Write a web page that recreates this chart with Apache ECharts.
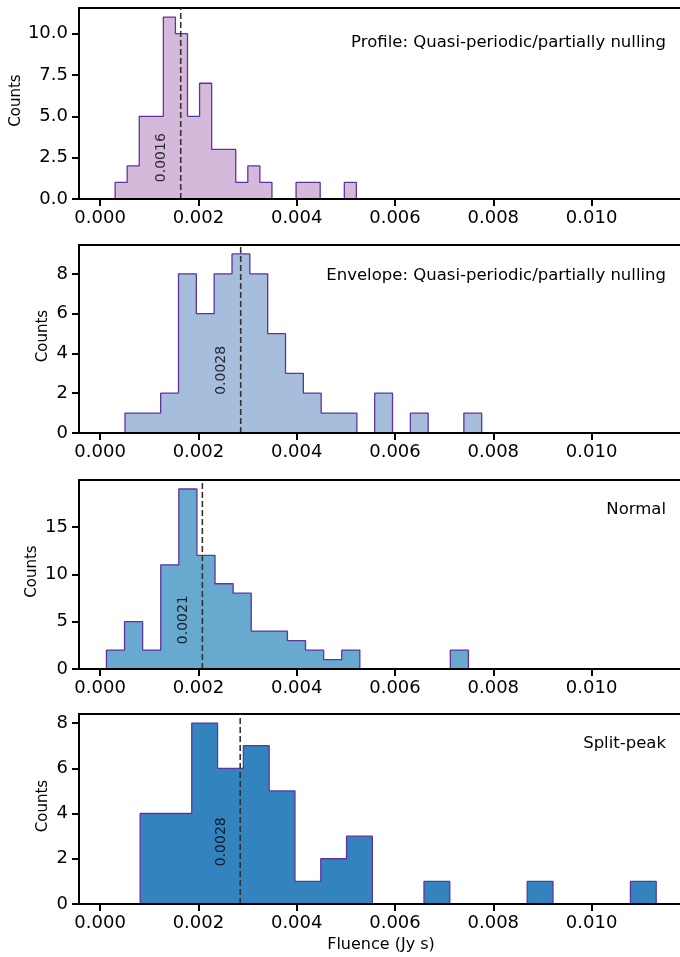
<html><head><meta charset='utf-8'>
<script src='https://cdn.jsdelivr.net/npm/echarts@6/dist/echarts.min.js'></script>
<style>body{margin:0;background:#fff}#chart{width:680px;height:957px}</style>
</head><body><div id='chart'></div><script>
// counts per bin, 20 equal bins between the range ends
var profileCounts  = [1,2,5,5,11,10,5,7,3,3,1,2,1,0,0,1,1,0,0,1];
var envelopeCounts = [1,1,2,8,6,8,9,8,5,3,2,1,1,0,2,0,1,0,0,1];
var normalCounts   = [2,5,2,11,19,12,9,8,4,4,3,2,1,2,0,0,0,0,0,2];
var splitCounts    = [4,4,8,6,7,5,1,2,3,0,0,1,0,0,0,1,0,0,0,1];

var profileRange  = [0.000305, 0.005214];
var envelopeRange = [0.000506, 0.007764];
var normalRange   = [0.000128, 0.007494];
var splitRange    = [0.000814, 0.011315];

var medians      = [0.00164, 0.00286, 0.00208, 0.00285];
var medianLabels = ['0.0016', '0.0028', '0.0021', '0.0028'];
var panelNames   = ['Profile: Quasi-periodic/partially nulling', 'Envelope: Quasi-periodic/partially nulling', 'Normal', 'Split-peak'];
var xTicks = [0, 0.002, 0.004, 0.006, 0.008, 0.010];

var panels = [
  {counts: profileCounts,  range: profileRange,  color: '#d4b9da', ymax: 11.55, step: 2.5, dec: 1, top: 8,   h: 191, labY: 2.5,  nameY: 44,  countsX: 16},
  {counts: envelopeCounts, range: envelopeRange, color: '#a6bddb', ymax: 9.45,  step: 2,   dec: 0, top: 245, h: 188, labY: 3.15, nameY: 277, countsX: 43},
  {counts: normalCounts,   range: normalRange,   color: '#67a9cf', ymax: 19.95, step: 5,   dec: 0, top: 480, h: 189, labY: 5.2,  nameY: 511, countsX: 32},
  {counts: splitCounts,    range: splitRange,    color: '#3383bf', ymax: 8.4,   step: 2,   dec: 0, top: 714, h: 190, labY: 2.75, nameY: 745, countsX: 43}
];

function stepPoints(counts, range) {
  var n = counts.length, w = (range[1] - range[0]) / n, pts = [[range[0], 0]];
  for (var i = 0; i < n; i++) {
    pts.push([range[0] + i * w, counts[i]]);
    pts.push([range[0] + (i + 1) * w, counts[i]]);
  }
  pts.push([range[1], 0]);
  return pts;
}

var font = 'DejaVu Sans';
var grids = [], xAxes = [], yAxes = [], series = [], graphics = [];
panels.forEach(function (p, k) {
  grids.push({left: 79, width: 604, top: p.top, height: p.h, show: true, borderColor: '#000', borderWidth: 2,
    backgroundColor: 'transparent', containLabel: false, outerBoundsMode: 'none'});
  xAxes.push({
    type: 'value', gridIndex: k, min: -0.00043, max: 0.01186, z: 5,
    axisLine: {onZero: false, lineStyle: {color: '#000', width: 2}},
    axisTick: {show: true, length: 7, lineStyle: {width: 2, color: '#000'}, customValues: xTicks},
    axisLabel: {fontFamily: font, fontSize: 18, color: '#000', margin: 10, customValues: xTicks,
      formatter: function (v) { return v.toFixed(3); }},
    splitLine: {show: false},
    name: k === 3 ? 'Fluence (Jy s)' : '', nameLocation: 'middle', nameGap: 33,
    nameTextStyle: {fontFamily: font, fontSize: 16, color: '#000'}
  });
  yAxes.push({
    type: 'value', gridIndex: k, min: 0, max: p.ymax, interval: p.step, z: 5,
    axisLine: {show: true, onZero: false, lineStyle: {color: '#000', width: 2}},
    axisTick: {show: true, length: 7, lineStyle: {width: 2, color: '#000'}},
    axisLabel: {fontFamily: font, fontSize: 18, color: '#000', margin: 11, showMaxLabel: false,
      formatter: (function (d) { return function (v) { return v.toFixed(d); }; })(p.dec)},
    splitLine: {show: false}
  });
  series.push({
    type: 'line', xAxisIndex: k, yAxisIndex: k, data: stepPoints(p.counts, p.range),
    showSymbol: false, symbol: 'none', animation: false, z: 2,
    lineStyle: {color: '#5e35a0', width: 1.3},
    areaStyle: {color: p.color, opacity: 1}
  });
  // median line
  series.push({
    type: 'line', xAxisIndex: k, yAxisIndex: k, data: [[medians[k], 0], [medians[k], p.ymax]],
    showSymbol: false, symbol: 'none', animation: false, silent: true, z: 3,
    lineStyle: {color: '#333', type: [6, 3], width: 1.6}
  });
  series.push({
    type: 'scatter', xAxisIndex: k, yAxisIndex: k, symbolSize: 2, silent: true, animation: false, z: 4,
    itemStyle: {color: 'rgba(0,0,0,0)'},
    data: [[medians[k], p.labY]],
    label: {show: true, position: 'inside', rotate: 90, offset: [0, -19],
      formatter: medianLabels[k], fontFamily: font, fontSize: 14, color: '#000'}
  });
  graphics.push({type: 'text', right: 14, top: p.nameY - 10,
    style: {text: panelNames[k], font: '16.5px "DejaVu Sans"', fill: '#000', textAlign: 'right'}});
  graphics.push({type: 'text', x: p.countsX, y: p.top + p.h / 2 - 3, rotation: Math.PI / 2,
    style: {text: 'Counts', font: '15px "DejaVu Sans"', fill: '#000', textAlign: 'center', textVerticalAlign: 'middle'}});
});

var chart = echarts.init(document.getElementById('chart'));
chart.setOption({
  animation: false,
  grid: grids, xAxis: xAxes, yAxis: yAxes, series: series, graphic: graphics
});
</script></body></html>
